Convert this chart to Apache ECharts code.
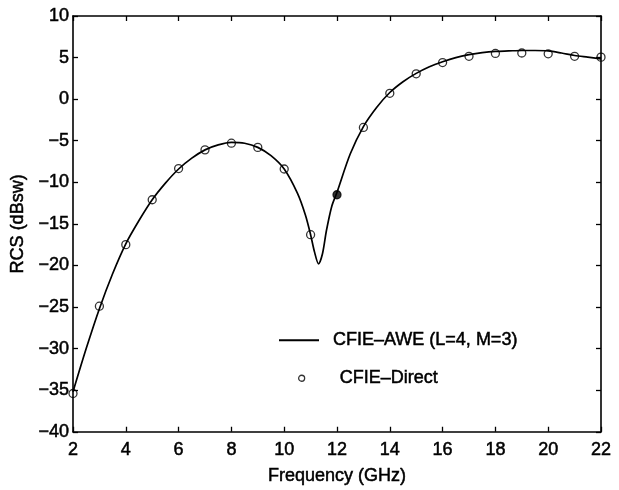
<!DOCTYPE html>
<html>
<head>
<meta charset="utf-8">
<script src="https://cdn.jsdelivr.net/npm/echarts@6/dist/echarts.min.js"></script>
<style>html,body{margin:0;padding:0;background:#fff}#c{width:619px;height:490px}</style>
</head>
<body>
<div id="c"></div>
<script>
// CFIE-Direct sample points (GHz, dBsw)
var directFreq = [2,3,4,5,6,7,8,9,10,11,12,13,14,15,16,17,18,19,20,21,22];
var directRcs  = [-35.4,-24.9,-17.5,-12.1,-8.35,-6.1,-5.3,-5.8,-8.4,-16.3,-11.5,-3.4,0.7,3.05,4.4,5.15,5.5,5.55,5.45,5.15,5.05];
var filledIndex = 10; // the 12 GHz point is drawn filled

// CFIE-AWE curve
var aweFreq = [2,2.5,3,3.5,4,4.5,5,5.5,6,6.5,7,7.5,8,8.5,9,9.5,10,10.5,10.8,11,11.15,11.3,11.45,11.6,11.8,12,12.5,13,13.5,14,14.5,15,15.5,16,16.5,17,17.5,18,18.5,19,19.5,20,20.5,21,21.5,22];
var aweRcs  = [-35.2,-30.0,-25.2,-21.0,-17.4,-14.6,-12.1,-10.1,-8.4,-7.1,-6.1,-5.5,-5.2,-5.3,-5.8,-6.8,-8.4,-11.3,-13.9,-16.3,-18.4,-19.8,-18.6,-15.8,-12.9,-11.2,-6.6,-3.3,-1.0,0.8,2.1,3.1,3.9,4.5,5.0,5.35,5.6,5.75,5.8,5.85,5.85,5.8,5.55,5.25,5.05,4.85];

var xTicks = {min:2, max:22, step:2};
var yTicks = {min:-40, max:10, step:5};

var legendNames = ['CFIE\u2013AWE (L=4, M=3)', 'CFIE\u2013Direct'];
var xName = 'Frequency (GHz)';
var yName = 'RCS (dBsw)';

var FONT = '"Liberation Sans", Arial, Helvetica, sans-serif';
var minusFmt = function(v){ return String(v).replace('-', '\u2212'); };
var TXT = {fontFamily:FONT, fontSize:18, color:'#000', textBorderColor:'#000', textBorderWidth:0.5};

var lineData = aweFreq.map(function(f,i){ return [f, aweRcs[i]]; });
var pointData = directFreq.map(function(f,i){
  var d = {value:[f, directRcs[i]]};
  if (i === filledIndex) { d.itemStyle = {color:'#000'}; }
  return d;
});

var axisCommon = {
  axisLine:{show:true, onZero:false, lineStyle:{color:'#000', width:1.6}},
  axisTick:{show:true, inside:true, length:5, lineStyle:{color:'#000', width:1.3}},
  splitLine:{show:false}
};

var chart = echarts.init(document.getElementById('c'), null, {renderer:'canvas'});
chart.setOption({
  animation:false,
  backgroundColor:'#fff',
  grid:{left:73, right:18, top:16, bottom:58, containLabel:false},
  legend:[
    {data:[{name:legendNames[0], icon:'rect'}],
     left:274, top:326, itemWidth:40, itemHeight:2, orient:'vertical',
     textStyle:Object.assign({padding:[0,0,0,9]}, TXT),
     itemStyle:{color:'#000', borderWidth:0}, selectedMode:false},
    {data:[{name:legendNames[1], icon:'circle'}],
     left:293, top:364, itemWidth:6, itemHeight:6, orient:'vertical',
     textStyle:Object.assign({padding:[12,0,0,30]}, TXT),
     itemStyle:{color:'rgba(0,0,0,0)', borderColor:'#000', borderWidth:1.3}, selectedMode:false}
  ],
  xAxis:[
    Object.assign({type:'value', position:'bottom', min:xTicks.min, max:xTicks.max, interval:xTicks.step,
      name:xName, nameLocation:'middle', nameGap:35, nameTextStyle:TXT,
      axisLabel:Object.assign({margin:9}, TXT)}, axisCommon),
    Object.assign({type:'value', position:'top', min:xTicks.min, max:xTicks.max, interval:xTicks.step,
      axisLabel:{show:false}}, axisCommon)
  ],
  yAxis:[
    Object.assign({type:'value', position:'left', min:yTicks.min, max:yTicks.max, interval:yTicks.step,
      name:yName, nameLocation:'middle', nameGap:46, nameTextStyle:TXT,
      axisLabel:Object.assign({margin:4, formatter:minusFmt}, TXT)}, axisCommon),
    Object.assign({type:'value', position:'right', min:yTicks.min, max:yTicks.max, interval:yTicks.step,
      axisLabel:{show:false}}, axisCommon)
  ],
  series:[
    {name:legendNames[0], type:'line', data:lineData, showSymbol:false, smooth:0.3,
     lineStyle:{color:'#000', width:1.7}, itemStyle:{color:'#000'}, z:2},
    {name:legendNames[1], type:'scatter', data:pointData, symbol:'circle', symbolSize:8,
     itemStyle:{color:'rgba(0,0,0,0)', borderColor:'#000', borderWidth:1.3}, z:3}
  ]
});
</script>
</body>
</html>
